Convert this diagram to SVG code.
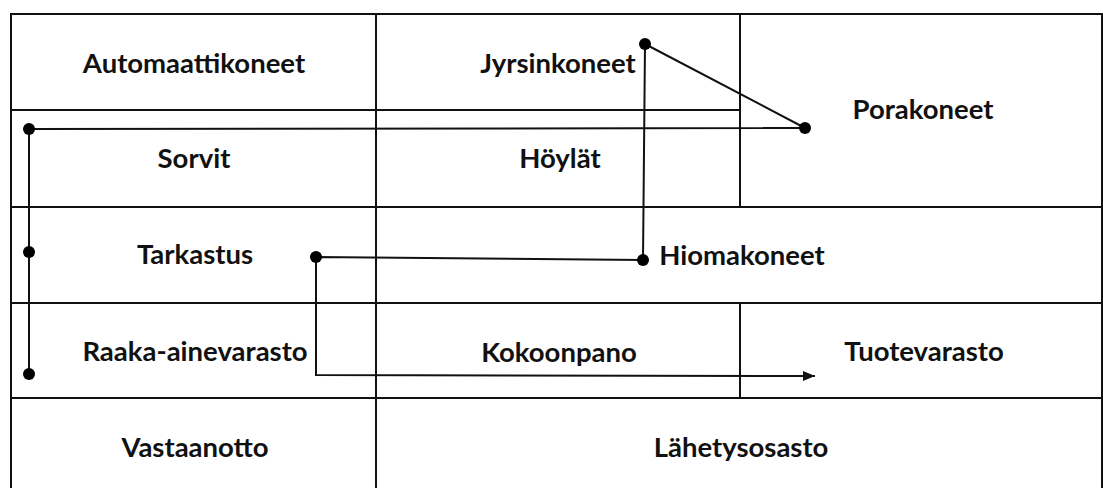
<svg xmlns="http://www.w3.org/2000/svg" width="1103" height="488" viewBox="0 0 1103 488">
<style>
.grid{stroke:#111;stroke-width:2;fill:none}
.flow{stroke:#111;stroke-width:2;fill:none}
.dot{fill:#000}
.lbl{font-family:Lato,"Open Sans","Liberation Sans",sans-serif;font-weight:bold;font-size:27.5px;fill:#111;text-anchor:middle}
</style>
<defs>
<marker id="ah" viewBox="0 0 12 10" refX="12" refY="5" markerWidth="12" markerHeight="10" markerUnits="userSpaceOnUse" orient="auto">
<path d="M0,0 L12,5 L0,10 z" fill="#111"/>
</marker>
</defs>
<rect width="1103" height="488" fill="#fff"/>
<g id="grid" class="grid">
<path d="M11,488 V14 H1102 V488"/>
<line x1="376" y1="14" x2="376" y2="488"/>
<line x1="740" y1="14" x2="740" y2="207"/>
<line x1="740" y1="303" x2="740" y2="398"/>
<line x1="11" y1="110" x2="740" y2="110"/>
<line x1="11" y1="207" x2="1102" y2="207"/>
<line x1="11" y1="303" x2="1102" y2="303"/>
<line x1="11" y1="398" x2="1102" y2="398"/>
</g>
<g id="automaattikoneet"><text class="lbl" x="194" y="73">Automaattikoneet</text></g>
<g id="jyrsinkoneet"><text class="lbl" x="558" y="73">Jyrsinkoneet</text></g>
<g id="porakoneet"><text class="lbl" x="923" y="119">Porakoneet</text></g>
<g id="sorvit"><text class="lbl" x="194" y="168">Sorvit</text></g>
<g id="hoylat"><text class="lbl" x="560" y="168">Höylät</text></g>
<g id="tarkastus"><text class="lbl" x="195" y="264">Tarkastus</text></g>
<g id="hiomakoneet"><text class="lbl" x="742" y="265">Hiomakoneet</text></g>
<g id="raaka-ainevarasto"><text class="lbl" x="195" y="361">Raaka-ainevarasto</text></g>
<g id="kokoonpano"><text class="lbl" x="559" y="362">Kokoonpano</text></g>
<g id="tuotevarasto"><text class="lbl" x="924" y="361">Tuotevarasto</text></g>
<g id="vastaanotto"><text class="lbl" x="195" y="457">Vastaanotto</text></g>
<g id="lahetysosasto"><text class="lbl" x="741" y="457">Lähetysosasto</text></g>
<g id="connectors">
<polyline class="flow" points="29,374 29,129 805,128 645,44 643,260 316,257 316,375 815,376" marker-end="url(#ah)"/>
<circle class="dot" cx="29" cy="374" r="6"/>
<circle class="dot" cx="29" cy="252" r="6"/>
<circle class="dot" cx="29" cy="129" r="6"/>
<circle class="dot" cx="805" cy="128" r="6"/>
<circle class="dot" cx="645" cy="44" r="6"/>
<circle class="dot" cx="643" cy="260" r="6"/>
<circle class="dot" cx="316" cy="257" r="6"/>
</g>
</svg>
